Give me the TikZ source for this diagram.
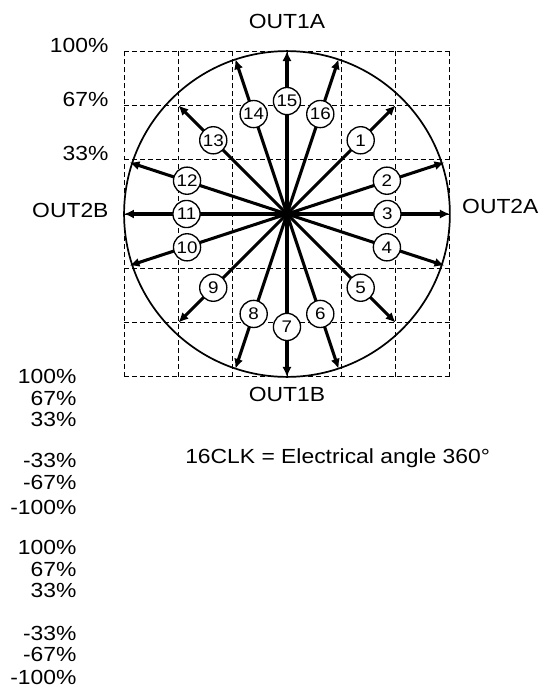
\documentclass[tikz,border=0pt]{standalone}
\usepackage{fontspec}
\setmainfont{Liberation Sans}[FakeStretch=1.12]
\usetikzlibrary{arrows.meta}
\begin{document}
\begin{tikzpicture}[>={Latex[length=5.2pt,width=4.8pt]},
    font=\fontsize{10.7}{12}\selectfont,
    grd/.style={dashed, dash pattern=on 2.6pt off 1.6pt, line width=.5pt},
    vec/.style={->, line width=1.6pt},
    num/.style={circle, draw, fill=white, line width=.7pt, inner sep=0pt,
        minimum size=.5cm, font=\fontsize{8.8}{10}\selectfont},
    lbl/.style={inner sep=0pt}]
\useasboundingbox (-5.285,-8.766) rectangle (4.917,3.941);
        \draw[grd] (-3,-3) grid (3,3);
        \draw[line width=.9pt] (0,0) circle (3);
        \coordinate (O) at (0,0);
% vectors: number / tip / angle of label / radius of label
\foreach \n/\x/\y/\a/\r in {1/2/2/45/1.92, 2/2.9/.95/18.43/1.94, 3/3/0/0/1.85,
    4/2.9/-.95/-18.43/1.94, 5/2/-2/-45/1.92, 6/.95/-2.85/-71.57/1.94,
    7/0/-3/-90/2.08, 8/-.95/-2.85/-108.43/1.94, 9/-2/-2/-135/1.92,
    10/-2.9/-.95/-161.57/1.94, 11/-3/0/180/1.85, 12/-2.9/.95/161.57/1.94,
    13/-2/2/135/1.92, 14/-.95/2.85/108.43/1.94, 15/0/3/90/2.08, 16/.95/2.85/71.57/1.94}{
        \coordinate (t\n) at (\x,\y);
        \draw[vec] (O)--(t\n);
        \node[num] (n\n) at (\a:\r) {\n};
}
        \node[lbl] (out1a) at (0,3.54) {OUT1A};
        \node[lbl] (out1b) at (0,-3.33) {OUT1B};
        \node[lbl, anchor=west] (out2a) at (3.22,.13) {OUT2A};
        \node[lbl, anchor=east] (out2b) at (-3.28,.06) {OUT2B};
        \node[lbl, anchor=east] (p100) at (-3.28,3.11) {100\%};
        \node[lbl, anchor=east] (p67) at (-3.28,2.1) {67\%};
        \node[lbl, anchor=east] (p33) at (-3.28,1.12) {33\%};
        \node[lbl, anchor=west] (clk) at (-1.88,-4.49) {16CLK = Electrical angle 360°};
% level columns
\foreach \t/\y [count=\i] in {100/-3, 67/-3.39, 33/-3.79, -33/-4.53, -67/-4.95, -100/-5.4,
    100/-6.15, 67/-6.54, 33/-6.94, -33/-7.72, -67/-8.12, -100/-8.53}
        \node[lbl, anchor=east] (lv\i) at (-3.87,\y) {\t\%};
    \end{tikzpicture}
\end{document}
